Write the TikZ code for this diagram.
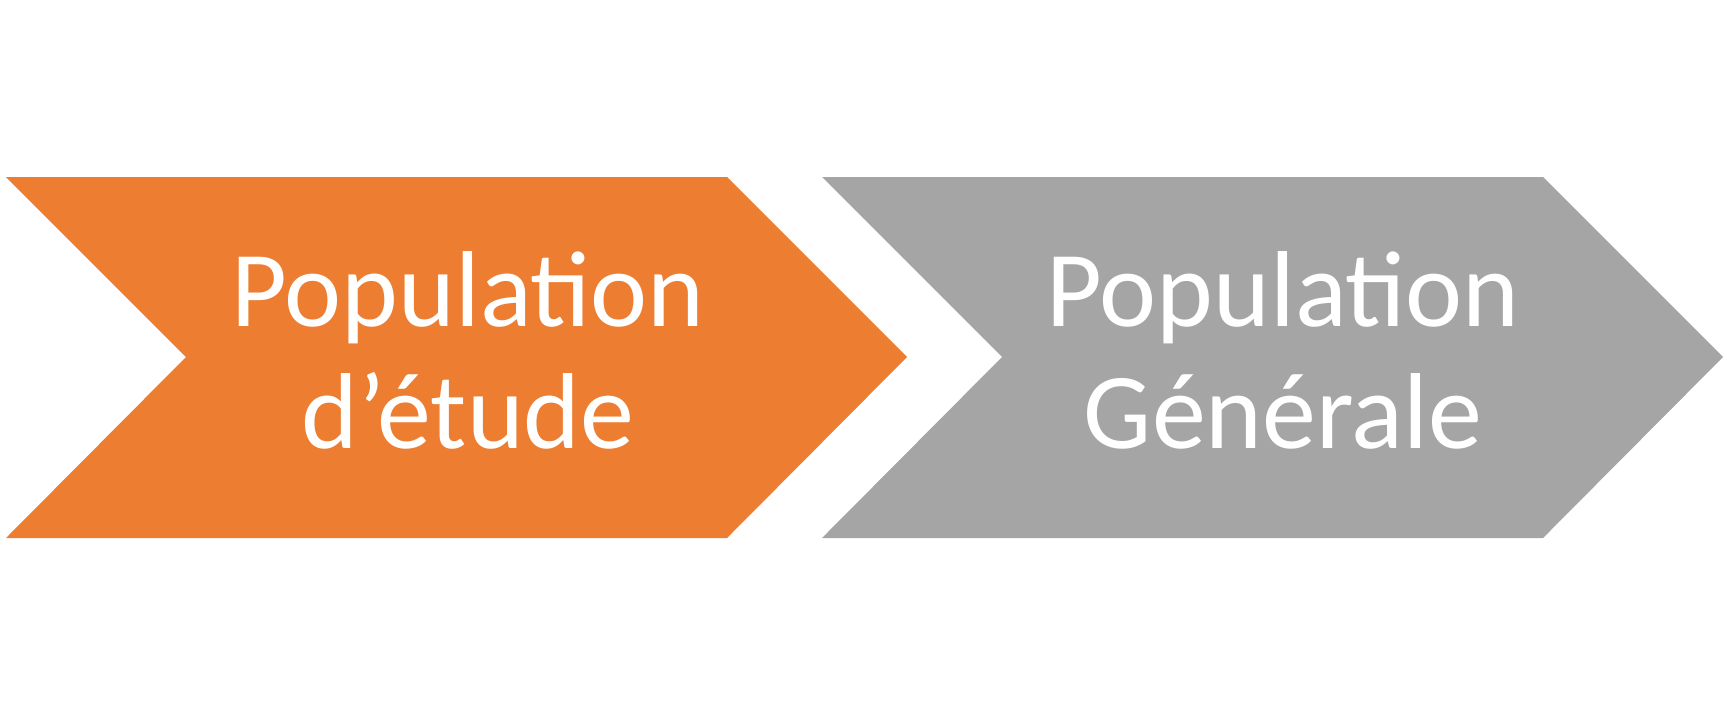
\documentclass[tikz,border=0pt]{standalone}
\usepackage{fontspec}
\setmainfont{Carlito}
\usetikzlibrary{positioning}
\definecolor{accentorange}{HTML}{ED7D31}
\definecolor{accentgray}{HTML}{A5A5A5}
\tikzstyle{chevtext} = [text=white, align=center, inner sep=0pt, font=\fontsize{54}{61}\selectfont]

\begin{document}
\begin{tikzpicture}[x=0.5pt, y=-0.5pt]
      \useasboundingbox (0,0) rectangle (1727,714);
      % the two chevrons
      \fill[accentorange] (6,177) -- (727,177) -- (907,357) -- (727,538) -- (6,538) -- (186,357) -- cycle;
      \fill[accentgray] (822,177) -- (1543,177) -- (1723,357) -- (1543,538) -- (822,538) -- (1002,357) -- cycle;
      \node (etude)[chevtext] at (468,350) {Population\\d’étude};
      \node (generale)[chevtext] at (1283,350) {Population\\Générale};
    \end{tikzpicture}
\end{document}
